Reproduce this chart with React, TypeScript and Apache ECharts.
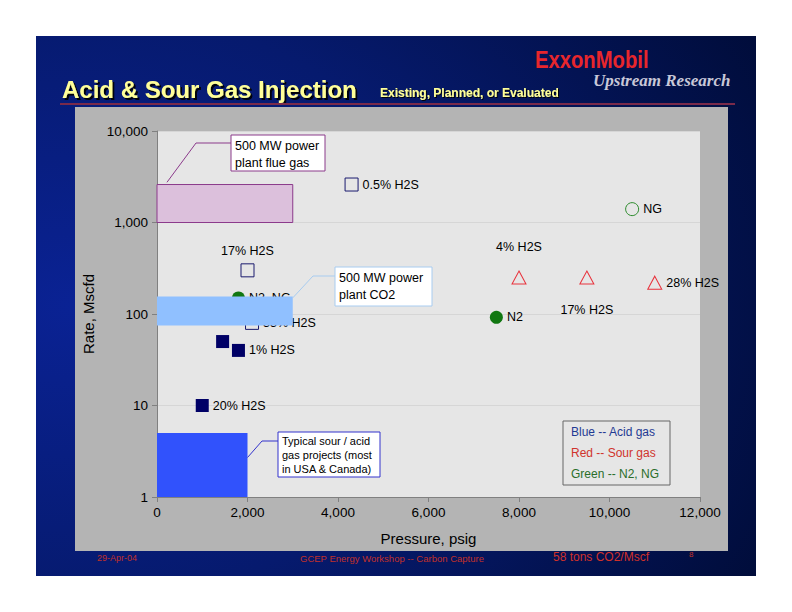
import React, { useEffect, useRef } from 'react';
import * as echarts from 'echarts';

const FONT = 'Liberation Sans, Arial, Helvetica, sans-serif';

const xTickValues = [0, 2000, 4000, 6000, 8000, 10000, 12000];
const yTickValues = [1, 10, 100, 1000, 10000];

// Acid gas, open squares
const acidOpenPoints = [
  { x: 4300, y: 2600, label: '0.5% H2S', pos: 'right', dist: 4 },
  { x: 2000, y: 300, label: '17% H2S', pos: 'top', dist: 6 },
  { x: 2100, y: 80, label: '33% H2S', pos: 'right', dist: 4 },
];
// Acid gas, filled squares
const acidFilledPoints = [
  { x: 1450, y: 50, label: '', pos: 'right', dist: 4 },
  { x: 1800, y: 40, label: '1% H2S', pos: 'right', dist: 4 },
  { x: 1000, y: 10, label: '20% H2S', pos: 'right', dist: 4 },
];
// Sour gas, open triangles
const sourPoints = [
  { x: 8000, y: 250, label: '4% H2S', pos: 'top', dist: 17 },
  { x: 9500, y: 250, label: '17% H2S', pos: 'bottom', dist: 19 },
  { x: 11000, y: 220, label: '28% H2S', pos: 'right', dist: 4 },
];
// N2 / NG, filled circles
const n2Points = [
  { x: 1800, y: 150, label: 'N2, NG', pos: 'right', dist: 4 },
  { x: 7500, y: 92, label: 'N2', pos: 'right', dist: 4 },
];
// NG, open circle
const ngPoints = [{ x: 10500, y: 1400, label: 'NG', pos: 'right', dist: 4 }];

// Rectangles: [xMin, xMax, yMin, yMax]
const flueGasRect = [0, 3000, 1000, 2600];
const co2Rect = [0, 3000, 75, 155];
const typicalRect = [0, 2000, 1, 5];

const legendLines = [
  { text: 'Blue -- Acid gas', color: '#1f3a93' },
  { text: 'Red -- Sour gas', color: '#d0342c' },
  { text: 'Green -- N2, NG', color: '#2a6e2a' },
];

const fmt = (v: number) => Math.round(v).toLocaleString('en-US');

function pts(list: any[]) {
  return list.map((p) => ({
    value: [p.x, p.y],
    label: {
      show: !!p.label,
      formatter: p.label,
      position: p.pos,
      distance: p.dist,
      color: '#000',
      fontSize: 12.5,
      fontFamily: FONT,
    },
  }));
}

function rectSeries(name: string, rect: number[], style: any) {
  return {
    type: 'custom',
    name,
    z: 5,
    encode: { x: [0, 1], y: [2, 3] },
    data: [rect],
    renderItem: (params: any, api: any) => {
      const p0 = api.coord([api.value(0), api.value(3)]);
      const p1 = api.coord([api.value(1), api.value(2)]);
      return {
        type: 'rect',
        shape: { x: p0[0], y: p0[1], width: p1[0] - p0[0], height: p1[1] - p0[1] },
        style,
      };
    },
  };
}

export default function App() {
  const ref = useRef<HTMLDivElement>(null);
  useEffect(() => {
    if (!ref.current) return;
    const chart = echarts.init(ref.current, undefined, { renderer: 'svg' });

    const shadow = { textShadowColor: 'rgba(0,0,0,0.9)', textShadowOffsetX: 2, textShadowOffsetY: 2, textShadowBlur: 1 };

    const baseGraphic: any[] = [
      {
        type: 'rect',
        z: -10,
        shape: { x: 36, y: 36, width: 720, height: 540 },
        style: {
          fill: {
            type: 'radial',
            x: 0.05,
            y: 0.5,
            r: 1.1,
            colorStops: [
              { offset: 0, color: '#0a2294' },
              { offset: 0.5, color: '#061a6e' },
              { offset: 1, color: '#000c38' },
            ],
          },
        },
      },
      {
        type: 'rect',
        z: -9,
        shape: { x: 75, y: 107, width: 653, height: 444 },
        style: { fill: '#b4b4b4' },
      },
      {
        type: 'text', z: 1, x: 62, y: 101,
        style: { text: 'Acid & Sour Gas Injection', fill: '#ffff99', font: `bold 24px ${FONT}`, textVerticalAlign: 'bottom', ...shadow },
      },
      {
        type: 'text', z: 1, x: 380, y: 99,
        style: { text: 'Existing, Planned, or Evaluated', fill: '#ffff99', font: `bold 12px ${FONT}`, textVerticalAlign: 'bottom', ...shadow, textShadowOffsetX: 1, textShadowOffsetY: 1 },
      },
      {
        type: 'line', z: 1,
        shape: { x1: 60, y1: 104, x2: 735, y2: 104 },
        style: { stroke: '#7a2a4a', lineWidth: 2 },
      },
      {
        type: 'text', z: 1, x: 535, y: 49, scaleX: 0.88,
        style: { text: 'ExxonMobil', fill: '#e8262c', font: `bold 23px ${FONT}` },
      },
      {
        type: 'text', z: 1, x: 593, y: 72,
        style: { text: 'Upstream Research', fill: '#c8c8d8', font: `italic bold 17px Liberation Serif, Times New Roman, serif` },
      },
      // footer
      {
        type: 'text', z: 1, x: 97, y: 553,
        style: { text: '29-Apr-04', fill: '#c0302a', font: `9px ${FONT}` },
      },
      {
        type: 'text', z: 1, x: 300, y: 553,
        style: { text: 'GCEP Energy Workshop -- Carbon Capture', fill: '#c0302a', font: `9.5px ${FONT}` },
      },
      {
        type: 'text', z: 1, x: 553, y: 551,
        style: { text: '58 tons CO2/Mscf', fill: '#d0302a', font: `12px ${FONT}` },
      },
      {
        type: 'text', z: 1, x: 689, y: 550,
        style: { text: '8', fill: '#c0302a', font: `8px ${FONT}` },
      },
      // legend box
      {
        type: 'rect', z: 10,
        shape: { x: 563, y: 421, width: 107, height: 64 },
        style: { fill: '#e6e6e6', stroke: '#666', lineWidth: 1 },
      },
      ...legendLines.map((l, i) => ({
        type: 'text', z: 11, x: 571, y: 432 + i * 21,
        style: { text: l.text, fill: l.color, font: `12px ${FONT}`, textVerticalAlign: 'middle' },
      })),
    ];

    const option: any = {
      animation: false,
      grid: {
        left: 157, right: 92, top: 131, bottom: 115,
        show: true, backgroundColor: '#e6e6e6', borderWidth: 0,
      },
      xAxis: {
        type: 'value',
        min: xTickValues[0],
        max: xTickValues[xTickValues.length - 1],
        interval: 2000,
        name: 'Pressure, psig',
        nameLocation: 'middle',
        nameGap: 34,
        nameTextStyle: { fontSize: 15, color: '#000', fontFamily: FONT },
        axisLine: { show: true, lineStyle: { color: '#808080' } },
        axisTick: { show: true, length: 5, lineStyle: { color: '#808080' } },
        axisLabel: { fontSize: 13.5, color: '#000', fontFamily: FONT, margin: 8, formatter: (v: number) => fmt(v) },
        splitLine: { show: false },
      },
      yAxis: {
        type: 'log',
        logBase: 10,
        min: yTickValues[0],
        max: yTickValues[yTickValues.length - 1],
        name: 'Rate, Mscfd',
        nameLocation: 'middle',
        nameGap: 61,
        nameRotate: 90,
        nameTextStyle: { fontSize: 15, color: '#000', fontFamily: FONT },
        axisLine: { show: true, lineStyle: { color: '#808080' } },
        axisTick: { show: true, length: 5, lineStyle: { color: '#808080' } },
        minorTick: { show: false },
        axisLabel: { fontSize: 13.5, color: '#000', fontFamily: FONT, margin: 9, formatter: (v: number) => fmt(v) },
        splitLine: { show: true, lineStyle: { color: '#d6d6d6', width: 1 } },
      },
      series: [
        {
          type: 'scatter', name: 'acidOpen', symbol: 'rect', symbolSize: 13,
          itemStyle: { color: 'rgba(0,0,0,0)', borderColor: '#1a1a6e', borderWidth: 1, opacity: 1 },
          data: pts(acidOpenPoints),
        },
        {
          type: 'scatter', name: 'acidFilled', symbol: 'rect', symbolSize: 13,
          itemStyle: { color: '#000066', opacity: 1 },
          data: pts(acidFilledPoints),
        },
        {
          type: 'scatter', name: 'sour', symbol: 'triangle', symbolSize: [14, 13],
          itemStyle: { color: 'rgba(0,0,0,0)', borderColor: '#e8323c', borderWidth: 1, opacity: 1 },
          data: pts(sourPoints),
        },
        {
          type: 'scatter', name: 'n2', symbol: 'circle', symbolSize: 13,
          itemStyle: { color: '#117711', opacity: 1 },
          data: pts(n2Points),
        },
        {
          type: 'scatter', name: 'ng', symbol: 'circle', symbolSize: 13,
          itemStyle: { color: 'rgba(0,0,0,0)', borderColor: '#2a8a2a', borderWidth: 1, opacity: 1 },
          data: pts(ngPoints),
        },
        rectSeries('flue', flueGasRect, { fill: '#dcc0dc', stroke: '#8b3a8b', lineWidth: 1 }),
        rectSeries('co2', co2Rect, { fill: '#90c0ff' }),
        rectSeries('typical', typicalRect, { fill: '#3152fc' }),
      ],
      graphic: baseGraphic,
    };
    chart.setOption(option);

    const toPx = (p: number[]) => chart.convertToPixel({ gridIndex: 0 }, p) as number[];
    const aFlue = toPx([220, 2750]);
    const aCo2 = toPx([co2Rect[1], 150]);
    const aTyp = toPx([typicalRect[1], 2.7]);

    const callout = (anchor: number[], elbow: number[], box: number[], color: string, lines: string[], fs: number, lh: number) => [
      {
        type: 'polyline', z: 12,
        shape: { points: [anchor, elbow, [box[0], elbow[1]]] },
        style: { stroke: color, lineWidth: 1, fill: 'none' },
      },
      {
        type: 'rect', z: 12,
        shape: { x: box[0], y: box[1], width: box[2], height: box[3] },
        style: { fill: '#fff', stroke: color, lineWidth: 1 },
      },
      ...lines.map((t, i) => ({
        type: 'text', z: 13, x: box[0] + 4, y: box[1] + 9 + (lh - 14) / 2 + i * lh,
        style: { text: t, fill: '#000', font: `${fs}px ${FONT}`, textVerticalAlign: 'middle' },
      })),
    ];

    const callouts = [
      ...callout(aFlue, [196, 143], [231, 135, 94, 36], '#8b3a8b', ['500 MW power', 'plant flue gas'], 12.5, 17),
      ...callout(aCo2, [313, 276], [335, 267, 97, 39], '#a8ccf0', ['500 MW power', 'plant CO2'], 12.5, 17),
      ...callout(aTyp, [262, 441], [278, 432, 102, 45], '#3333cc', ['Typical sour / acid', 'gas projects (most', 'in USA & Canada)'], 11, 14),
    ];

    chart.setOption({ graphic: [...baseGraphic, ...callouts] });

    return () => chart.dispose();
  }, []);

  return <div ref={ref} style={{ position: 'fixed', left: 0, top: 0, width: 792, height: 612, background: '#fff' }} />;
}
